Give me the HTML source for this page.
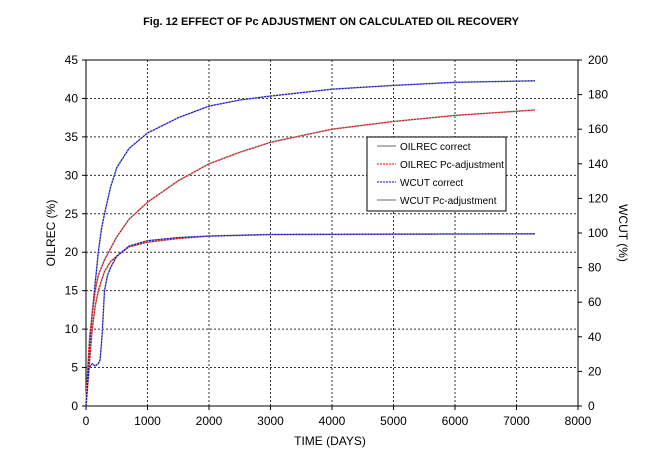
<!DOCTYPE html>
<html><head><style>
body{margin:0;background:#fff;}
svg text{font-family:"Liberation Sans",Arial,sans-serif;fill:#000;}
</style></head><body>
<svg id="s" width="662" height="461" xmlns="http://www.w3.org/2000/svg">
<text x="331" y="25" text-anchor="middle" font-size="11" font-weight="bold">Fig. 12  EFFECT OF Pc ADJUSTMENT ON CALCULATED OIL RECOVERY</text>
<g id="grid" stroke="#333" stroke-width="1" stroke-dasharray="2,2" fill="none"></g>
<rect x="86" y="60" width="492" height="346" fill="none" stroke="#000"/>
<g id="ticks" font-size="12"></g>
<g id="curves" fill="none"></g>
<text x="330" y="445" text-anchor="middle" font-size="12">TIME (DAYS)</text>
<text transform="translate(55,233) rotate(-90)" text-anchor="middle" font-size="12">OILREC (%)</text>
<text transform="translate(619,233) rotate(90)" text-anchor="middle" font-size="12">WCUT (%)</text>
<rect x="367" y="137" width="139" height="74" fill="#fff" stroke="#000"/>
<g font-size="10">
<line x1="377" y1="146" x2="396" y2="146" stroke="#999" stroke-width="1.5"/><text x="400" y="150">OILREC correct</text>
<line x1="377" y1="164" x2="396" y2="164" stroke="#e00" stroke-dasharray="2,1"/><text x="400" y="168">OILREC Pc-adjustment</text>
<line x1="377" y1="182" x2="396" y2="182" stroke="#00d" stroke-dasharray="2,1"/><text x="400" y="186">WCUT correct</text>
<line x1="377" y1="200" x2="396" y2="200" stroke="#999" stroke-width="1.5"/><text x="400" y="204">WCUT Pc-adjustment</text>
</g>
</svg>
<script>
const X=t=>86+t*0.0615, Y=v=>406-v*7.689;
const NS="http://www.w3.org/2000/svg";
function el(p,tag,a,txt){const e=document.createElementNS(NS,tag);for(const k in a)e.setAttribute(k,a[k]);if(txt!==undefined)e.textContent=txt;document.getElementById(p).appendChild(e);}
for(let i=1;i<8;i++)el("grid","line",{x1:X(i*1000),x2:X(i*1000),y1:60,y2:406});
for(let i=1;i<9;i++)el("grid","line",{x1:86,x2:578,y1:Y(i*5),y2:Y(i*5)});
for(let i=0;i<=9;i++){el("ticks","text",{x:78,y:Y(i*5)+4,"text-anchor":"end"},String(i*5));el("ticks","line",{x1:82,x2:86,y1:Y(i*5),y2:Y(i*5),stroke:"#000"});}
for(let i=0;i<=10;i++){const y=406-i*34.6;el("ticks","text",{x:588,y:y+4},String(i*20));el("ticks","line",{x1:578,x2:582,y1:y,y2:y,stroke:"#000"});}
for(let i=0;i<=8;i++){el("ticks","text",{x:X(i*1000),y:425,"text-anchor":"middle"},String(i*1000));el("ticks","line",{x1:X(i*1000),x2:X(i*1000),y1:406,y2:410,stroke:"#000"});}
function path(d,c,w,dash){let s="M"+d.map(p=>X(p[0]).toFixed(1)+","+Y(p[1]).toFixed(1)).join("L");const a={d:s,stroke:c,"stroke-width":w};if(dash)a["stroke-dasharray"]=dash;el("curves","path",a);}
const up=[[0,0],[30,4],[60,8],[100,12],[150,16],[200,20],[250,23],[300,25],[400,28.5],[500,31],[700,33.5],[1000,35.5],[1500,37.5],[2000,39],[2500,39.8],[3000,40.3],[4000,41.2],[5000,41.7],[6000,42.1],[7300,42.3]];
const red=[[0,0],[30,5],[60,9],[100,12],[150,15],[200,17],[300,19],[500,22],[700,24.3],[1000,26.5],[1500,29.3],[2000,31.5],[2500,33],[3000,34.3],[4000,36],[5000,37],[6000,37.8],[7300,38.5]];
const wb=[[0,0],[30,3],[50,5],[100,5.5],[150,5.2],[200,5.5],[230,6],[260,9],[300,15],[350,17],[400,18],[500,19.5],[700,20.8],[1000,21.5],[1500,21.9],[2000,22.1],[3000,22.3],[7300,22.4]];
const wr=[[0,0],[30,3],[60,6],[100,10],[150,13],[200,15],[300,17.5],[400,18.8],[500,19.5],[700,20.7],[1000,21.3],[1500,21.8],[2000,22.1],[3000,22.3],[7300,22.4]];
path(up,"#aaa",1.6);path(red,"#aaa",1.6);path(wb,"#aaa",1.6);path(wr,"#aaa",1.6);
path(up,"#00e",1,"2,1");path(red,"#e00",1,"2,1");path(wr,"#e00",1,"2,1");path(wb,"#00e",1,"2,1");
</script>
</body></html>
